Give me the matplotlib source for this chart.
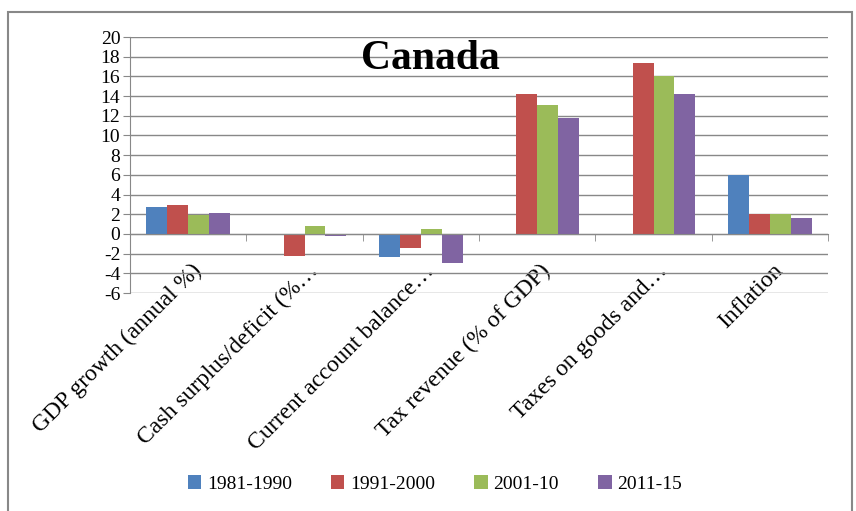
import numpy as np
import matplotlib
matplotlib.use("Agg")
import matplotlib.pyplot as plt
import matplotlib.transforms as mtransforms
from matplotlib.patches import Rectangle

categories = ["GDP growth (annual %)", "Cash surplus/deficit (%\u2026",
              "Current account balance\u2026", "Tax revenue (% of GDP)",
              "Taxes on goods and\u2026", "Inflation"]
periods = ["1981-1990", "1991-2000", "2001-10", "2011-15"]
v1981 = [2.7, 0.0, -2.3, 0.0, 0.0, 6.0]
v1991 = [2.9, -2.2, -1.4, 14.2, 17.4, 2.0]
v2001 = [1.9, 0.8, 0.5, 13.1, 16.0, 2.0]
v2011 = [2.1, -0.2, -3.0, 11.8, 14.2, 1.6]
colors = ["#4F81BD", "#C0504D", "#9BBB59", "#8064A2"]

plt.rcParams["font.family"] = ["Liberation Serif", "DejaVu Serif"]
plt.rcParams["axes.unicode_minus"] = False

fig = plt.figure(figsize=(8.56, 5.11), dpi=100)
ax = fig.add_axes([130 / 856, 1 - 293 / 511, 698 / 856, 256 / 511])

xs = np.arange(len(categories))
w = 0.18
for k, (vals, c, lab) in enumerate(zip([v1981, v1991, v2001, v2011], colors, periods)):
    ax.bar(xs + (k - 1.5) * w, vals, width=w, color=c, label=lab, zorder=3)

ax.set_xlim(-0.5, len(categories) - 0.5)
ax.set_ylim(-6, 20)
ax.set_yticks(np.arange(-6, 21, 2))
ax.yaxis.grid(True, color="#888888", lw=1.0, zorder=0)
ax.tick_params(axis="y", labelsize=14, length=5, color="#888888", pad=2)

for s in ["top", "right"]:
    ax.spines[s].set_visible(False)
ax.spines["left"].set_color("#888888")
ax.spines["bottom"].set_color("#888888")
ax.spines["bottom"].set_position(("data", 0))
ax.spines["bottom"].set_zorder(4)

ax.set_xticks(xs)
ax.set_xticklabels(categories, rotation=45, ha="right", va="top",
                   rotation_mode="anchor", fontsize=17)
ax.set_xticks(np.arange(len(categories)) + 0.5, minor=True)
ax.tick_params(axis="x", which="major", length=0, pad=19)
ax.tick_params(axis="x", which="minor", length=5, color="#888888")
shift = mtransforms.ScaledTranslation(3 / 100, 0, fig.dpi_scale_trans)
for lbl in ax.get_xticklabels():
    lbl.set_transform(lbl.get_transform() + shift)

ax.text(0.43, 0.913, "Canada", transform=ax.transAxes, ha="center", va="center",
        fontsize=30, fontweight="bold")

ax.legend(loc="center", bbox_to_anchor=(0.508, 0.053), bbox_transform=fig.transFigure,
          ncol=4, frameon=False, fontsize=14, handlelength=0.7, handleheight=0.7,
          handletextpad=0.3, columnspacing=2.0)

fig.patches.append(Rectangle((8 / 856, -0.02), 844 / 856, 1 - 12 / 511 + 0.02,
                             transform=fig.transFigure, fill=False,
                             edgecolor="#888888", lw=1.5))

fig.savefig("out.png", dpi=100)
